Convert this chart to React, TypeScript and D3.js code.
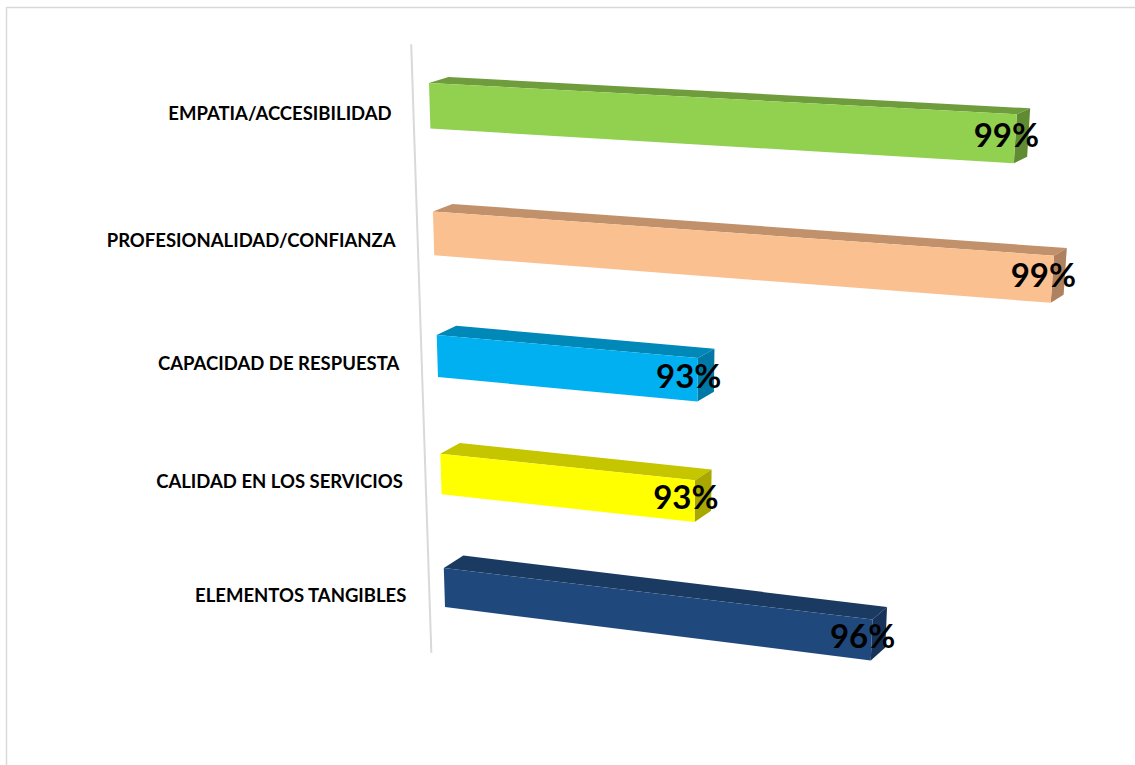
import * as d3 from "d3";
import React from "react";

// categories, top to bottom
const categories = [
  "EMPATIA/ACCESIBILIDAD",
  "PROFESIONALIDAD/CONFIANZA",
  "CAPACIDAD DE RESPUESTA",
  "CALIDAD EN LOS SERVICIOS",
  "ELEMENTOS TANGIBLES",
];
const values = [0.9851, 0.9935, 0.9255, 0.9252, 0.9625]; // share per category
const axisDomain = [0.87, 1.0]; // value axis range

const frontColors = ["#92d050", "#fac090", "#00b0f0", "#ffff00", "#1f497d"];
const topColors = ["#6f9c3c", "#c1916b", "#0088b9", "#c5c500", "#1a3a62"];
const sideColors = ["#618b33", "#ae8260", "#0079a6", "#a8a800", "#17335a"];

const W = 1135;
const H = 765;

// corners of the chart plane on screen (u: value axis, v: category axis)
const corners = {
  p00: [429, 83],
  p10: [1100, 118.8],
  p11: [1058, 683.9],
  p01: [445, 607],
};

// square -> quad homography, gives the tilted 3d look
function makeProjection(c: typeof corners) {
  const [x0, y0] = c.p00;
  const [x1, y1] = c.p10;
  const [x2, y2] = c.p11;
  const [x3, y3] = c.p01;
  const dx1 = x1 - x2;
  const dx2 = x3 - x2;
  const dx3 = x0 - x1 + x2 - x3;
  const dy1 = y1 - y2;
  const dy2 = y3 - y2;
  const dy3 = y0 - y1 + y2 - y3;
  const den = dx1 * dy2 - dx2 * dy1;
  const g = (dx3 * dy2 - dx2 * dy3) / den;
  const h = (dx1 * dy3 - dx3 * dy1) / den;
  const a = x1 - x0 + g * x1;
  const b = x3 - x0 + h * x3;
  const d = y1 - y0 + g * y1;
  const e = y3 - y0 + h * y3;
  return (u: number, v: number): [number, number] => {
    const w = g * u + h * v + 1;
    return [(a * u + b * v + x0) / w, (d * u + e * v + y0) / w];
  };
}

const project = makeProjection(corners);

// depth of the bars (back face offset)
const depth = (u: number, v: number): [number, number] => [19.5 - 7 * u, -(6 + 7 * v)];

const add = (p: [number, number], q: [number, number]): [number, number] => [p[0] + q[0], p[1] + q[1]];

const poly = (pts: [number, number][]) => `M${pts.map((p) => `${p[0]},${p[1]}`).join("L")}Z`;

export default function App() {
  const xScale = d3.scaleLinear().domain(axisDomain).range([0, 1]);
  const yScale = d3.scaleBand().domain(categories).range([0, 1]).paddingInner(0.65).paddingOuter(0);
  const bw = yScale.bandwidth();
  const fmt = d3.format(".0%");

  // vertical axis line, slightly left of the bars
  const axisTop = project(-0.027, -0.066);
  const axisBottom = project(-0.027, 1.1);

  return (
    <svg width={W} height={H} style={{ position: "absolute", left: 0, top: 0, background: "#fff" }}>
      <rect x={6.5} y={7.5} width={W + 10} height={H + 10} fill="#fff" stroke="#d9d9d9" strokeWidth={1.5} />
      <line x1={axisTop[0]} y1={axisTop[1]} x2={axisBottom[0]} y2={axisBottom[1]} stroke="#d9d9d9" strokeWidth={2} />
      {categories.map((cat, i) => {
        const v0 = yScale(cat) as number;
        const v1 = v0 + bw;
        const u1 = xScale(values[i]);
        const fTL = project(0, v0);
        const fTR = project(u1, v0);
        const fBR = project(u1, v1);
        const fBL = project(0, v1);
        const bTL = add(fTL, depth(0, v0));
        const bTR = add(fTR, depth(u1, v0));
        const bBR = add(fBR, depth(u1, v1));
        const mid = project(u1, v0 + bw / 2);
        const leftMid = project(0, v0 + bw / 2);
        return (
          <g key={cat}>
            <path d={poly([fTL, fTR, bTR, bTL])} fill={topColors[i]} />
            <path d={poly([fTR, bTR, bBR, fBR])} fill={sideColors[i]} />
            <path d={poly([fTL, fTR, fBR, fBL])} fill={frontColors[i]} />
            <text
              x={mid[0] - 9}
              y={mid[1] - 5}
              textAnchor="middle"
              dominantBaseline="central"
              fontFamily="Lato, 'Open Sans', sans-serif"
              fontWeight={700}
              fontSize={33}
              fill="#000"
            >
              {fmt(values[i])}
            </text>
            <text
              x={leftMid[0] - 38}
              y={leftMid[1] + 7}
              textAnchor="end"
              dominantBaseline="central"
              fontFamily="Lato, 'Open Sans', sans-serif"
              fontWeight={700}
              fontSize={18.5}
              fill="#000"
            >
              {cat}
            </text>
          </g>
        );
      })}
    </svg>
  );
}
